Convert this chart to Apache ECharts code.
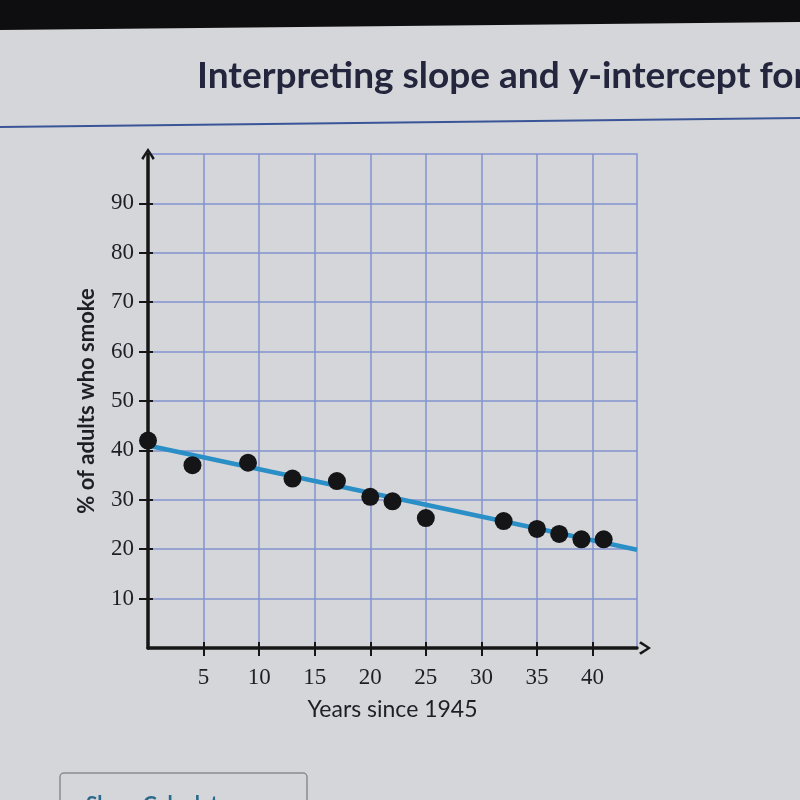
<!DOCTYPE html>
<html>
<head>
<meta charset="utf-8">
<script src="https://cdn.jsdelivr.net/npm/echarts@6/dist/echarts.min.js"></script>
<style>
html,body{margin:0;padding:0;background:#d5d6d9;}
#chart{width:800px;height:800px;}
</style>
</head>
<body>
<div id="chart"></div>
<script>
// ---- data ----
const years = [0, 4, 9, 13, 17, 20, 22, 25, 32, 35, 37, 39, 41];
const smokers = [42, 37, 37.5, 34.3, 33.8, 30.6, 29.7, 26.3, 25.7, 24.1, 23.1, 22, 22];
const trendX = [0, 44];
const trendY = [41, 19.9];
const xTickLabels = [5, 10, 15, 20, 25, 30, 35, 40];
const yTickLabels = [10, 20, 30, 40, 50, 60, 70, 80, 90];
const titleText = 'Interpreting slope and y-intercept for lines of best fit';
const xName = 'Years since 1945';
const yName = '% of adults who smoke';

const points = years.map((x, i) => [x, smokers[i]]);
const trend = trendX.map((x, i) => [x, trendY[i]]);

const chevron = 'path://M6,0 L12,9 L10.2,10.6 L6,3.6 L1.8,10.6 L0,9 Z';
const gridColor = '#8293cf';
const axisColor = '#161616';

const chart = echarts.init(document.getElementById('chart'));
chart.setOption({
  backgroundColor: '#d5d6d9',
  animation: false,
  title: {
    text: titleText,
    left: 192, top: 53,
    textStyle: { fontFamily: 'Lato', fontWeight: 'bold', fontSize: 37, color: '#23263d' }
  },
  graphic: [
    { type: 'polygon', shape: { points: [[0,0],[800,0],[800,22],[0,30]] }, style: { fill: '#0e0e10' }, z: 10 },
    { type: 'line', shape: { x1: 0, y1: 127, x2: 800, y2: 118 }, style: { stroke: '#3a5597', lineWidth: 2 }, z: 10 },
    { type: 'rect', shape: { x: 60, y: 773, width: 247, height: 60, r: 4 }, style: { fill: 'transparent', stroke: '#8a8c90', lineWidth: 1.5 }, z: 10 },
    { type: 'text', left: 86, top: 794, style: { text: 'Show Calculator', fontFamily: 'Lato', fontWeight: 'bold', fontSize: 21, fill: '#2b6a8a' }, z: 10 }
  ],
  grid: {
    left: 148, right: 163, top: 154, bottom: 152,
    show: true, backgroundColor: 'transparent', borderColor: gridColor, borderWidth: 1.5
  },
  xAxis: [
    {
      type: 'value', min: 0, max: 44, interval: 5,
      name: xName, nameLocation: 'middle', nameGap: 50,
      nameTextStyle: { fontFamily: 'Lato', fontSize: 23, color: '#1e1e24' },
      axisLine: { show: true, onZero: false, lineStyle: { color: axisColor, width: 3.5 },
        symbol: ['none', chevron], symbolSize: [16, 12], symbolOffset: [0, 8] },
      axisTick: { show: true, customValues: xTickLabels, length: 8, lineStyle: { color: axisColor, width: 2 } },
      axisLabel: { customValues: xTickLabels, margin: 18, fontFamily: 'Liberation Serif', fontSize: 23, color: '#1e1e24' },
      splitLine: { show: true, lineStyle: { color: gridColor, width: 1.5 } }
    },
    {
      type: 'value', min: 0, max: 44, position: 'bottom',
      axisLine: { show: false },
      axisTick: { show: true, inside: true, customValues: xTickLabels, length: 6, lineStyle: { color: axisColor, width: 2 } },
      axisLabel: { show: false },
      splitLine: { show: false }
    }
  ],
  yAxis: [
    {
      type: 'value', min: 0, max: 100, interval: 5,
      name: yName, nameLocation: 'middle', nameGap: 50,
      nameTextStyle: { fontFamily: 'Lato', fontWeight: 'bold', fontSize: 22, color: '#1e1e24' },
      axisLine: { show: true, onZero: false, lineStyle: { color: axisColor, width: 3.5 },
        symbol: ['none', chevron], symbolSize: [16, 12], symbolOffset: [0, 0] },
      axisTick: { show: true, customValues: yTickLabels, length: 9, lineStyle: { color: axisColor, width: 2 } },
      axisLabel: { customValues: yTickLabels, margin: 14, fontFamily: 'Liberation Serif', fontSize: 23, color: '#1e1e24' },
      splitLine: { show: true, lineStyle: { color: gridColor, width: 1.5 } }
    },
    {
      type: 'value', min: 0, max: 100, position: 'left',
      axisLine: { show: false },
      axisTick: { show: true, inside: true, customValues: yTickLabels, length: 5, lineStyle: { color: axisColor, width: 2 } },
      axisLabel: { show: false },
      splitLine: { show: false }
    }
  ],
  series: [
    {
      type: 'line', data: trend, xAxisIndex: 0, yAxisIndex: 0,
      symbol: 'none', lineStyle: { color: '#2a8fc6', width: 4.5 }, z: 3
    },
    {
      type: 'scatter', data: points, xAxisIndex: 0, yAxisIndex: 0,
      symbolSize: 18, itemStyle: { color: '#151518', opacity: 1 }, z: 4
    }
  ]
});
</script>
</body>
</html>
